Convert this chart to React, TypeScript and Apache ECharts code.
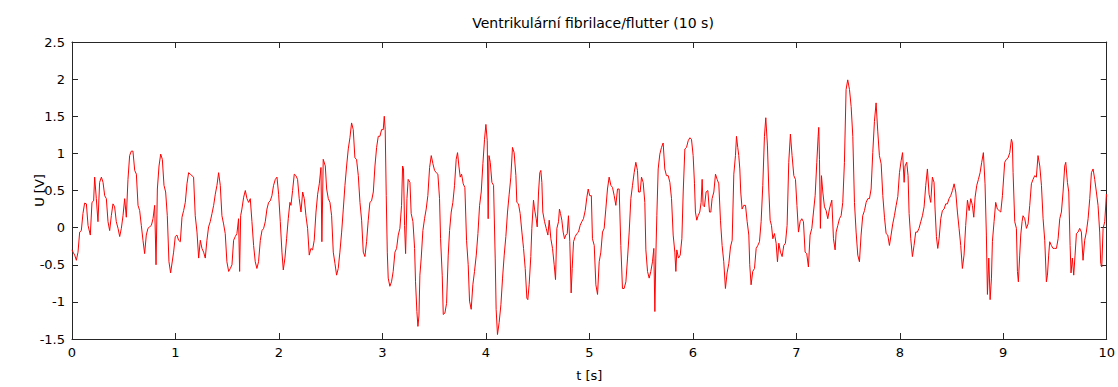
import React, { useEffect, useRef } from "react";
import * as echarts from "echarts";

const chartTitle = "Ventrikulární fibrilace/flutter (10 s)";
const xAxisName = "t [s]";
const yAxisName = "U [V]";

const xTicks = { min: 0, max: 10, interval: 1 };
const yTicks = { min: -1.5, max: 2.5, interval: 0.5 };

// [t (s), U (V)], one array per second
const sec0: [number, number][] = [[0,-0.30],[0.010,-0.33],[0.026,-0.37],[0.042,-0.44],[0.058,-0.33],[0.074,-0.06],[0.090,-0.04],[0.106,0.19],[0.122,0.33],[0.139,0.32],[0.155,0.03],[0.177,-0.10],[0.193,0.34],[0.209,0.36],[0.219,0.68],[0.235,0.39],[0.251,0.08],[0.267,0.61],[0.284,0.68],[0.300,0.61],[0.316,0.43],[0.332,0.39],[0.348,0.08],[0.364,-0.04],[0.380,0.16],[0.396,0.32],[0.412,0.28],[0.428,0.08],[0.445,-0.01],[0.461,-0.12],[0.477,-0.01],[0.493,0.16],[0.509,0.39],[0.525,0.14],[0.541,0.65],[0.557,0.97],[0.573,1.03],[0.589,1.03],[0.606,0.77],[0.622,0.72],[0.638,0.30],[0.654,0.23],[0.670,0.03],[0.686,-0.17],[0.702,-0.35],[0.718,-0.10],[0.734,-0.01],[0.750,0.01],[0.767,0.03],[0.783,0.12],[0.799,0.30],[0.812,-0.50],[0.825,0.52],[0.841,0.83],[0.857,0.99],[0.873,0.92],[0.889,0.57],[0.905,0.48],[0.921,0.16],[0.937,-0.46],[0.953,-0.61],[0.982,-0.33],[0.998,-0.12]];
const sec1: [number, number][] = [[1.014,-0.10],[1.030,-0.17],[1.047,-0.19],[1.063,0.14],[1.079,0.23],[1.095,0.34],[1.111,0.59],[1.127,0.74],[1.143,0.72],[1.159,0.70],[1.175,0.68],[1.191,0.16],[1.208,-0.06],[1.224,-0.41],[1.240,-0.17],[1.256,-0.28],[1.272,-0.33],[1.288,-0.41],[1.304,-0.17],[1.320,0.01],[1.336,0.08],[1.353,0.19],[1.369,0.30],[1.385,0.45],[1.401,0.57],[1.417,0.74],[1.433,0.57],[1.449,0.16],[1.465,0.05],[1.481,-0.08],[1.497,-0.46],[1.514,-0.59],[1.530,-0.55],[1.546,-0.50],[1.562,-0.17],[1.578,-0.12],[1.594,-0.08],[1.610,0.12],[1.620,-0.59],[1.630,0.16],[1.642,0.25],[1.659,0.41],[1.675,0.50],[1.691,0.39],[1.707,0.34],[1.723,0.39],[1.739,0.08],[1.755,-0.24],[1.771,-0.46],[1.787,-0.55],[1.803,-0.46],[1.820,-0.17],[1.836,-0.04],[1.852,-0.01],[1.868,0.08],[1.884,0.25],[1.900,0.34],[1.916,0.36],[1.932,0.43],[1.948,0.57],[1.965,0.65],[1.981,0.68],[1.997,0.45]];
const sec2: [number, number][] = [[2.013,0.08],[2.029,-0.33],[2.042,-0.57],[2.058,-0.41],[2.074,-0.15],[2.090,0.12],[2.106,0.34],[2.116,0.30],[2.132,0.50],[2.148,0.72],[2.164,0.70],[2.180,0.65],[2.196,0.39],[2.213,0.21],[2.229,0.48],[2.245,0.39],[2.261,0.16],[2.277,-0.01],[2.293,-0.37],[2.309,-0.28],[2.325,-0.30],[2.341,-0.17],[2.358,0.21],[2.374,0.45],[2.390,0.59],[2.406,0.81],[2.415,-0.19],[2.428,0.92],[2.448,0.83],[2.461,0.52],[2.477,0.39],[2.493,0.34],[2.509,0.16],[2.525,-0.33],[2.541,-0.48],[2.557,-0.64],[2.573,-0.55],[2.589,-0.33],[2.606,-0.06],[2.622,0.25],[2.638,0.57],[2.654,0.83],[2.670,1.06],[2.686,1.21],[2.702,1.41],[2.718,1.32],[2.734,0.94],[2.750,0.92],[2.767,0.70],[2.783,0.34],[2.799,0.10],[2.815,-0.33],[2.831,-0.39],[2.847,-0.19],[2.863,0.10],[2.879,0.34],[2.895,0.36],[2.912,0.48],[2.928,0.83],[2.944,1.08],[2.960,1.23],[2.976,1.23],[2.992,1.32]];
const sec3: [number, number][] = [[3.008,1.32],[3.018,1.50],[3.027,1.32],[3.037,0.43],[3.047,-0.33],[3.056,-0.68],[3.072,-0.79],[3.088,-0.73],[3.104,-0.59],[3.121,-0.33],[3.137,-0.28],[3.153,-0.10],[3.169,-0.01],[3.185,0.30],[3.195,0.83],[3.204,0.79],[3.214,0.03],[3.224,-0.35],[3.237,0.39],[3.249,0.65],[3.266,0.61],[3.278,0.19],[3.295,0.08],[3.311,-0.28],[3.320,-0.73],[3.333,-1.13],[3.343,-1.33],[3.353,-1.19],[3.362,-0.64],[3.375,-0.41],[3.391,-0.04],[3.407,0.12],[3.423,0.25],[3.439,0.43],[3.456,0.81],[3.472,0.97],[3.488,0.86],[3.504,0.77],[3.520,0.74],[3.536,0.72],[3.552,0.39],[3.562,-0.15],[3.578,-0.64],[3.588,-1.17],[3.604,-1.15],[3.620,-1.02],[3.636,-0.37],[3.649,-0.04],[3.665,0.21],[3.681,0.34],[3.697,0.57],[3.713,0.92],[3.726,1.01],[3.739,0.83],[3.752,0.68],[3.765,0.72],[3.781,0.59],[3.797,0.54],[3.813,-0.17],[3.829,-0.50],[3.842,-0.99],[3.858,-1.10],[3.874,-0.77],[3.890,-0.59],[3.907,-0.37],[3.923,-0.08],[3.939,0.30],[3.955,0.48],[3.971,0.86],[3.987,1.19]];
const sec4: [number, number][] = [[4.000,1.39],[4.013,1.17],[4.022,0.12],[4.030,0.97],[4.042,0.88],[4.058,0.61],[4.074,0.57],[4.090,-0.41],[4.099,-1.10],[4.112,-1.44],[4.128,-1.28],[4.145,-1.04],[4.161,-0.68],[4.177,-0.37],[4.193,-0.12],[4.209,0.21],[4.225,0.45],[4.241,0.68],[4.257,1.08],[4.273,1.01],[4.290,0.70],[4.299,0.34],[4.315,0.32],[4.331,0.19],[4.348,-0.06],[4.364,-0.28],[4.380,-0.55],[4.396,-0.95],[4.405,-0.97],[4.418,-0.77],[4.434,-0.39],[4.444,-0.01],[4.460,0.37],[4.470,0.25],[4.486,0.12],[4.496,0.01],[4.509,0.48],[4.521,0.74],[4.531,0.77],[4.541,0.61],[4.550,0.21],[4.567,0.08],[4.583,-0.01],[4.599,-0.10],[4.612,0.10],[4.628,-0.15],[4.644,-0.28],[4.660,-0.50],[4.673,-0.70],[4.686,-0.01],[4.702,0.08],[4.711,0.25],[4.721,0.19],[4.734,0.10],[4.747,-0.06],[4.760,-0.15],[4.773,-0.10],[4.786,-0.08],[4.798,0.16],[4.811,-0.19],[4.824,-0.88],[4.834,-0.55],[4.847,-0.19],[4.863,-0.12],[4.879,-0.08],[4.895,-0.06],[4.911,0.03],[4.927,0.08],[4.943,0.12],[4.960,0.23],[4.976,0.41],[4.989,0.52]];
const sec5: [number, number][] = [[5.003,0.43],[5.019,0.43],[5.030,-0.15],[5.047,-0.24],[5.063,-0.77],[5.079,-0.90],[5.095,-0.46],[5.111,-0.33],[5.127,-0.06],[5.143,-0.01],[5.159,0.25],[5.175,0.52],[5.191,0.68],[5.208,0.57],[5.224,0.54],[5.240,0.43],[5.256,0.30],[5.272,0.52],[5.288,0.52],[5.304,-0.24],[5.320,-0.82],[5.336,-0.82],[5.353,-0.73],[5.369,-0.41],[5.385,-0.06],[5.401,0.39],[5.417,0.57],[5.433,0.74],[5.449,0.88],[5.465,0.77],[5.475,0.48],[5.491,0.48],[5.504,0.68],[5.520,0.61],[5.536,0.34],[5.546,-0.30],[5.562,-0.59],[5.578,-0.68],[5.594,-0.59],[5.610,-0.46],[5.623,-0.28],[5.633,-1.13],[5.642,-0.41],[5.652,0.16],[5.665,0.79],[5.681,0.99],[5.697,1.08],[5.713,1.14],[5.729,0.79],[5.745,0.70],[5.762,0.70],[5.778,0.61],[5.794,0.39],[5.810,-0.10],[5.826,-0.33],[5.836,-0.59],[5.845,-0.30],[5.861,-0.41],[5.878,-0.37],[5.894,-0.15],[5.907,0.48],[5.923,1.06],[5.939,1.08],[5.955,1.17],[5.971,1.21],[5.987,1.19]];
const sec6: [number, number][] = [[6.003,0.97],[6.016,0.59],[6.025,0.21],[6.038,0.10],[6.051,0.16],[6.067,0.21],[6.080,0.34],[6.090,0.65],[6.099,0.30],[6.112,0.28],[6.128,0.48],[6.145,0.50],[6.161,0.21],[6.174,0.21],[6.186,0.39],[6.203,0.48],[6.219,0.72],[6.235,0.65],[6.251,0.59],[6.267,0.10],[6.283,-0.24],[6.299,-0.46],[6.315,-0.82],[6.331,-0.61],[6.348,-0.48],[6.364,-0.26],[6.380,-0.17],[6.396,0.72],[6.412,0.97],[6.422,1.23],[6.434,1.08],[6.444,0.97],[6.454,0.79],[6.463,0.48],[6.476,0.25],[6.492,0.30],[6.509,0.30],[6.525,0.08],[6.541,-0.10],[6.550,-0.50],[6.563,-0.77],[6.579,-0.59],[6.596,-0.55],[6.612,-0.28],[6.628,-0.24],[6.644,-0.19],[6.660,0.08],[6.676,0.57],[6.692,1.23],[6.705,1.48],[6.721,1.10],[6.734,0.52],[6.747,0.10],[6.760,0.03],[6.773,-0.15],[6.789,-0.08],[6.805,-0.21],[6.818,-0.46],[6.831,-0.21],[6.847,-0.33],[6.863,-0.39],[6.879,-0.24],[6.895,-0.21],[6.911,0.03],[6.927,0.88],[6.943,1.26],[6.959,0.97],[6.976,0.70],[6.992,0.65]];
const sec7: [number, number][] = [[7.006,0.30],[7.021,-0.06],[7.037,0.08],[7.053,0.12],[7.069,0.08],[7.085,-0.33],[7.101,-0.35],[7.117,-0.53],[7.133,-0.10],[7.150,-0.01],[7.166,0.21],[7.182,0.43],[7.198,0.88],[7.211,1.23],[7.217,1.35],[7.224,0.92],[7.233,-0.01],[7.243,0.70],[7.256,0.48],[7.272,0.28],[7.288,0.23],[7.304,0.12],[7.320,0.25],[7.343,0.37],[7.359,-0.15],[7.375,-0.30],[7.385,-0.06],[7.401,0.03],[7.417,0.12],[7.433,0.16],[7.449,0.34],[7.465,0.88],[7.481,1.86],[7.497,1.99],[7.514,1.86],[7.530,1.63],[7.546,1.23],[7.562,0.34],[7.578,-0.06],[7.594,-0.37],[7.610,-0.46],[7.626,-0.10],[7.642,0.16],[7.659,0.23],[7.675,0.34],[7.691,0.39],[7.707,0.39],[7.723,0.52],[7.739,1.01],[7.755,1.43],[7.771,1.68],[7.787,1.30],[7.803,0.97],[7.820,0.86],[7.836,0.43],[7.852,0.14],[7.868,-0.08],[7.884,-0.10],[7.900,-0.24],[7.916,-0.10],[7.932,0.05],[7.948,0.16],[7.965,0.30],[7.981,0.42],[7.997,0.74]];
const sec8: [number, number][] = [[8.013,0.90],[8.027,1.01],[8.042,0.61],[8.051,0.83],[8.067,0.88],[8.080,0.70],[8.090,0.19],[8.106,-0.15],[8.122,-0.39],[8.138,-0.24],[8.154,-0.06],[8.170,-0.06],[8.186,-0.01],[8.203,0.08],[8.219,0.16],[8.235,0.28],[8.251,0.57],[8.267,0.79],[8.283,0.45],[8.299,0.34],[8.315,0.68],[8.331,0.61],[8.341,0.25],[8.354,-0.12],[8.367,-0.28],[8.380,-0.15],[8.396,0.12],[8.412,0.23],[8.428,0.25],[8.444,0.32],[8.460,0.32],[8.476,0.39],[8.492,0.43],[8.509,0.50],[8.525,0.59],[8.541,0.48],[8.557,0.21],[8.573,-0.01],[8.589,-0.24],[8.605,-0.55],[8.621,-0.37],[8.637,0.03],[8.654,0.37],[8.670,0.23],[8.686,0.39],[8.702,0.30],[8.715,0.14],[8.728,0.41],[8.744,0.57],[8.760,0.65],[8.776,0.74],[8.792,0.88],[8.808,1.01],[8.824,0.59],[8.837,-0.10],[8.847,-0.90],[8.860,-0.41],[8.873,-0.97],[8.886,-0.68],[8.895,-0.19],[8.911,0.08],[8.927,0.34],[8.943,0.25],[8.960,0.23],[8.976,0.21],[8.992,0.43]];
const sec9: [number, number][] = [[9.014,0.88],[9.030,0.92],[9.047,0.94],[9.063,1.01],[9.079,1.19],[9.088,1.14],[9.095,0.74],[9.111,0.08],[9.127,-0.01],[9.137,-0.59],[9.146,-0.73],[9.159,-0.37],[9.169,-0.10],[9.182,0.08],[9.191,0.16],[9.208,0.12],[9.224,-0.01],[9.240,0.05],[9.256,0.30],[9.272,0.59],[9.288,0.65],[9.304,0.70],[9.320,0.68],[9.336,0.97],[9.353,0.83],[9.369,0.57],[9.385,0.12],[9.401,-0.17],[9.417,-0.73],[9.427,-0.64],[9.439,-0.37],[9.449,-0.19],[9.465,-0.24],[9.481,-0.28],[9.497,-0.28],[9.514,-0.28],[9.530,-0.15],[9.546,0.12],[9.562,0.21],[9.578,0.48],[9.594,0.83],[9.604,0.88],[9.620,0.61],[9.633,0.48],[9.646,-0.24],[9.655,-0.61],[9.668,-0.41],[9.681,-0.64],[9.694,-0.37],[9.707,-0.08],[9.723,-0.06],[9.739,-0.01],[9.755,-0.06],[9.771,-0.44],[9.787,-0.17],[9.803,-0.06],[9.820,0.12],[9.836,0.39],[9.852,0.74],[9.868,0.79],[9.884,0.65],[9.900,0.48],[9.916,0.30],[9.932,-0.06],[9.942,-0.48],[9.952,-0.53],[9.965,-0.01],[9.981,0.08],[9.997,0.45],[10,0.42]];

const FONT = "'DejaVu Sans', Verdana, sans-serif";

export default function App() {
  const ref = useRef<HTMLDivElement>(null);
  useEffect(() => {
    if (!ref.current) return;
    const chart = echarts.init(ref.current, undefined, { renderer: "svg" });
    const trace = [...sec0, ...sec1, ...sec2, ...sec3, ...sec4, ...sec5, ...sec6, ...sec7, ...sec8, ...sec9];
    const axisLine = { show: true, onZero: false, lineStyle: { color: "#262626", width: 1 } };
    const axisTick = { show: true, inside: true, length: 6, lineStyle: { color: "#262626", width: 1 } };
    const label = { color: "#000", fontSize: 13, fontFamily: FONT };
    chart.setOption({
      animation: false,
      backgroundColor: "#fff",
      title: {
        text: chartTitle,
        left: 588,
        textAlign: "center",
        top: 11,
        textStyle: { color: "#000", fontSize: 14, fontWeight: "normal", fontFamily: FONT },
      },
      grid: { left: 72, right: 11, top: 42, bottom: 46, containLabel: false },
      xAxis: [
        {
          type: "value", ...xTicks, position: "bottom",
          axisLine, axisTick, splitLine: { show: false },
          axisLabel: { ...label, margin: 7 },
          name: xAxisName, nameLocation: "middle", nameGap: 30, nameMoveOverlap: false,
          nameTextStyle: { ...label },
        },
        {
          type: "value", ...xTicks, position: "top",
          axisLine, axisTick, splitLine: { show: false },
          axisLabel: { show: false },
        },
      ],
      yAxis: [
        {
          type: "value", ...yTicks, position: "left",
          axisLine, axisTick, splitLine: { show: false },
          axisLabel: { ...label, margin: 7 },
          name: yAxisName, nameLocation: "middle", nameGap: 26, nameRotate: 90, nameMoveOverlap: false,
          nameTextStyle: { ...label },
        },
        {
          type: "value", ...yTicks, position: "right",
          axisLine, axisTick, splitLine: { show: false },
          axisLabel: { show: false },
        },
      ],
      series: [
        {
          type: "line",
          data: trace,
          xAxisIndex: 0,
          yAxisIndex: 0,
          showSymbol: false,
          symbol: "none",
          lineStyle: { color: "#ff0000", width: 1 },
          silent: true,
        },
      ],
    });
    return () => chart.dispose();
  }, []);
  return (
    <div
      ref={ref}
      style={{ position: "absolute", left: 0, top: 0, width: 1118, height: 387 }}
    />
  );
}
